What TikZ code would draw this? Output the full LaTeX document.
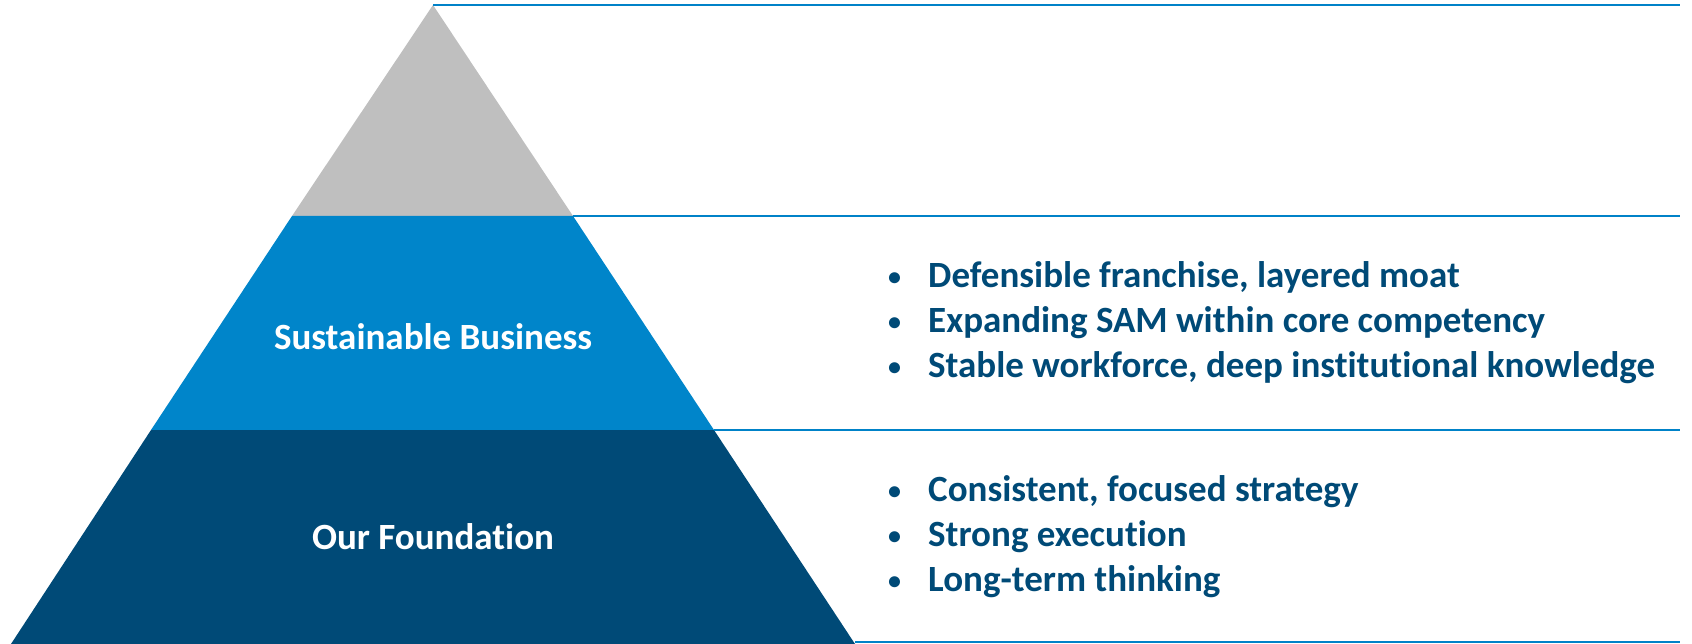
\documentclass[tikz,border=0pt]{standalone}
\usepackage{fontspec}
\setmainfont{Carlito}[Ligatures=NoCommon]
\usetikzlibrary{positioning}
\definecolor{capgray}{RGB}{191,191,191}
\definecolor{midblue}{RGB}{0,133,202}
\definecolor{darknavy}{RGB}{0,74,119}
\definecolor{ruleblue}{RGB}{0,130,200}
\newcommand{\pt}{\makebox[40pt][l]{\fontsize{26}{26}\selectfont\raisebox{2pt}{\textbullet}}}

\begin{document}
\begin{tikzpicture}[x=1pt, y=-1pt,
  tierlabel/.style={text=white, font=\bfseries\fontsize{37}{42}\selectfont},
  points/.style={anchor=west, align=left, inner sep=0pt, text=darknavy,
                 font=\bfseries\fontsize{37}{45}\selectfont},
  sep/.style={draw=ruleblue, line width=2pt}]
\useasboundingbox (0,0) rectangle (1692,644);
% pyramid corners
\coordinate (apex) at (433,5);
\coordinate (l1) at (292,216);
\coordinate (r1) at (573,216);
\coordinate (l2) at (151,430);
\coordinate (r2) at (714,430);
\coordinate (l3) at (11,644);
\coordinate (r3) at (855,644);
% right ends of the rules
\coordinate (e0) at (1680,5);
\coordinate (e1) at (1680,216);
\coordinate (e2) at (1680,430);
\coordinate (e3) at (1680,642);
\fill[capgray] (apex) -- (r1) -- (l1) -- cycle;
\fill[midblue] (l1) -- (r1) -- (r2) -- (l2) -- cycle;
\fill[darknavy] (l2) -- (r2) -- (r3) -- (l3) -- cycle;
\node[tierlabel] (sust) at (433,337) {Sustainable Business};
\node[tierlabel] (found) at (433,537) {Our Foundation};
\draw[sep] (apex) -- (e0);
\draw[sep] (r1) -- (e1);
\draw[sep] (r2) -- (e2);
\draw[sep] (855,642) -- (e3);
\node[points] (moat) at (888,323)
  {\pt Defensible franchise, layered moat\\
   \pt Expanding SAM within core competency\\
   \pt Stable workforce, deep institutional knowledge};
\node[points] (base) at (888,537)
  {\pt Consistent, focused strategy\\
   \pt Strong execution\\
   \pt Long-term thinking};
\end{tikzpicture}
\end{document}
